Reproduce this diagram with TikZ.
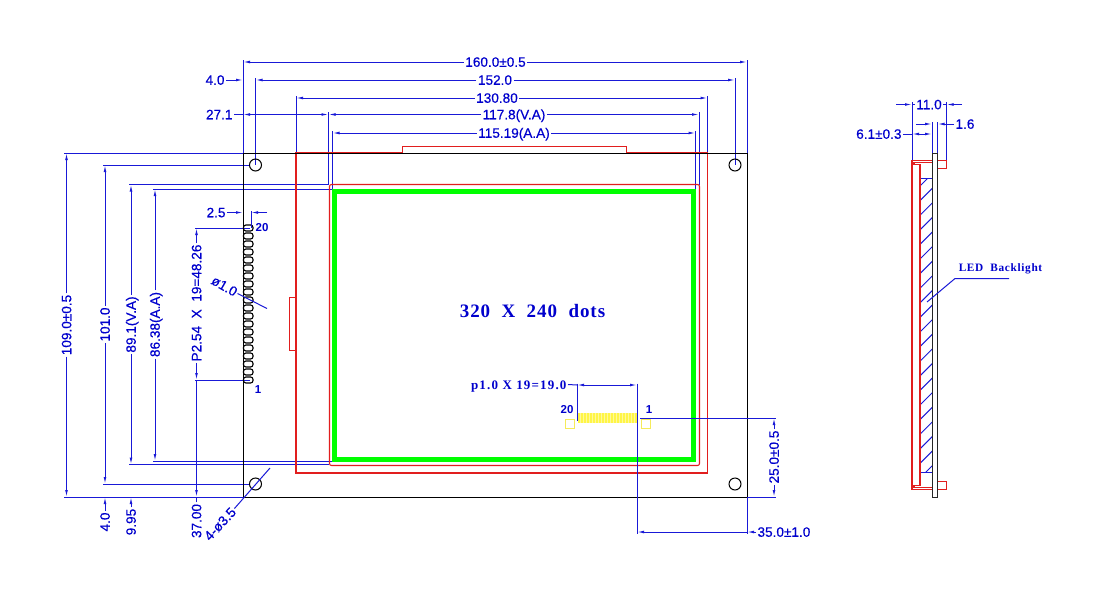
\documentclass[tikz,border=0pt]{standalone}
\usepackage{fontspec}
\setmainfont[FakeBold=0.35]{Liberation Sans}
\newfontfamily\serifcad[LetterSpace=9]{Liberation Serif}
\newfontfamily\serifdots[LetterSpace=5]{Liberation Serif}
\newfontfamily\serifled[LetterSpace=6]{Liberation Serif}
\newfontfamily\sanspin{Liberation Sans}
\usetikzlibrary{arrows.meta}
\definecolor{cadblue}{RGB}{25,25,215}
\definecolor{cadtext}{RGB}{0,0,205}
\definecolor{cadred}{RGB}{225,30,30}
\definecolor{cadgreen}{RGB}{0,255,0}
\definecolor{cadyellow}{RGB}{255,245,70}
\definecolor{padyellow}{RGB}{245,235,90}
\tikzset{
  dl/.style={draw=cadblue,line width=1pt},
  ta/.style={dl,-{Latex[length=7pt,width=2.8pt]}},
  tb/.style={dl,{Latex[length=7pt,width=2.8pt]}-{Latex[length=7pt,width=2.8pt]}},
  lab/.style={text=cadtext,font=\fontsize{13.6}{14}\selectfont,inner sep=0pt,outer sep=1.5pt,text height=9.5pt,text depth=0pt},
  vlab/.style={lab,rotate=90},
  bl/.style={lab,font=\sanspin\fontsize{11.5}{12}\selectfont\bfseries},
  redl/.style={draw=cadred,line width=1.05pt},
  blk/.style={draw=black,line width=1pt},
}
\begin{document}
\begin{tikzpicture}[x=1pt,y=-1pt]
\useasboundingbox[fill=white] (0,0) rectangle (1100,600);

% --- extension lines (under the outlines)
\draw[dl] (243,60) -- (243,153);
\draw[dl] (747,60) -- (747,153);
\draw[dl] (255.5,78) -- (255.5,165);
\draw[dl] (735,78) -- (735,165);
\draw[dl] (296,96) -- (296,153);
\draw[dl] (707.5,96) -- (707.5,153);
\draw[dl] (328.5,112) -- (328.5,185);
\draw[dl] (699,112) -- (699,185);
\draw[dl] (332.5,131) -- (332.5,189);
\draw[dl] (695.5,131) -- (695.5,189);

\draw[dl] (64,153) -- (243,153);
\draw[dl] (64,497) -- (243,497);
\draw[dl] (103,165) -- (250,165);
\draw[dl] (103,484) -- (250,484);
\draw[dl] (129,184.5) -- (329,184.5);
\draw[dl] (129,464.5) -- (329,464.5);
\draw[dl] (153,189) -- (332,189);
\draw[dl] (153,461) -- (332,461);
\draw[dl] (195,228) -- (250,228);
\draw[dl] (195,380) -- (250,380);

% --- front view: outlines
\draw[redl,line width=1.3pt] (296,153) -- (402.5,153) -- (402.5,146.5) -- (626.5,146.5) -- (626.5,153) -- (707.5,153) -- (707.5,473) -- (296,473) -- cycle;
\draw[redl,line width=1.3pt] (296,297.5) -- (289.5,297.5) -- (289.5,350.5) -- (296,350.5);
\draw[redl,rounded corners=2pt] (329.5,184.5) rectangle (699.5,465.5);
\draw[draw=cadgreen,line width=5pt] (334.5,191) rectangle (693.5,459);
\fill[cadgreen] (690.5,193) rectangle (693,202);
\draw[blk] (243.5,153.5) -- (747.5,153.5) -- (747.5,497.5) -- (243.5,497.5) -- cycle;
\foreach \hx/\hy in {255.5/165,735/165,255.5/484,735/484}
  \draw[blk] (\hx,\hy) circle (6);

% pins
\foreach \i in {0,...,19}
  \draw[draw=black,line width=1.1pt,rounded corners=2.4pt] (243.5,{228+8*\i-3}) rectangle (253,{228+8*\i+3});

% yellow connector
\fill[cadyellow] (578,413) rectangle (638,423);
\foreach \i in {0,...,19}
  \draw[white!45!cadyellow,line width=0.5pt] ({580+3*\i},413) -- ({580+3*\i},423);
\draw[padyellow,line width=1pt] (565.5,419) rectangle (574,428);
\draw[padyellow,line width=1pt] (641.5,419) rectangle (650,428);

% --- top dimensions
\node[lab] (t160) at (495.5,62) {160.0±0.5};
\draw[ta] (t160.west) -- (243,62);
\draw[ta] (t160.east) -- (747,62);

\node[lab] (t152) at (495,80) {152.0};
\draw[ta] (t152.west) -- (255.5,80);
\draw[ta] (t152.east) -- (735,80);
\node[lab,anchor=east] (t4a) at (226,80) {4.0};
\draw[ta] (t4a.east) -- (243,80);

\node[lab] (t130) at (497,98) {130.80};
\draw[ta] (t130.west) -- (296,98);
\draw[ta] (t130.east) -- (707.5,98);

\node[lab] (t117) at (514,114.5) {117.8(V.A)};
\draw[ta] (t117.west) -- (328.5,114.5);
\draw[ta] (t117.east) -- (699,114.5);
\node[lab,anchor=east] (t27) at (234,114.5) {27.1};
\draw[dl] (t27.east) -- (243,114.5);
\draw[tb] (243,114.5) -- (328.5,114.5);

\node[lab] (t115) at (514,133) {115.19(A.A)};
\draw[ta] (t115.west) -- (332.5,133);
\draw[ta] (t115.east) -- (695.5,133);

% --- left dimensions
\node[vlab] (t109) at (66.5,325) {109.0±0.5};
\draw[ta] (t109.east) -- (66.5,153);
\draw[ta] (t109.west) -- (66.5,497);

\node[vlab] (t101) at (105,324.5) {101.0};
\draw[ta] (t101.east) -- (105,165);
\draw[ta] (t101.west) -- (105,484);

\node[vlab] (t89) at (131,324.5) {89.1(V.A)};
\draw[ta] (t89.east) -- (131,184.5);
\draw[ta] (t89.west) -- (131,464.5);

\node[vlab] (t86) at (155,324.5) {86.38(A.A)};
\draw[ta] (t86.east) -- (155,189);
\draw[ta] (t86.west) -- (155,461);

\node[vlab] (tp) at (196.5,303) {P2.54\ \ X\ \ 19=48.26};
\draw[ta] (tp.east) -- (196.5,228);
\draw[ta] (tp.west) -- (196.5,380);

\node[vlab] (t4b) at (105,522) {4.0};
\draw[ta] (t4b.east) -- (105,497);
\node[vlab] (t995) at (131,522) {9.95};
\draw[ta] (t995.east) -- (131,497);
\node[vlab] (t37) at (196.5,521) {37.00};
\draw[dl] (t37.east) -- (196.5,497);
\draw[ta] (196.5,380) -- (196.5,497);

% pin pitch labels
\node[lab,anchor=east] (t25) at (227,212.5) {2.5};
\draw[ta] (t25.east) -- (243,212.5);
\coordinate (p25) at (267,212.5);
\draw[ta] (p25) -- (251,212.5);
\draw[dl] (251,211) -- (251,228);
\node[bl] (n20a) at (262,227) {20};
\node[bl] (n1a) at (258,389) {1};
\node[lab,rotate=-30] (tphi) at (224.5,286) {ø1.0};
\coordinate (phiend) at (267,308.5);
\draw[dl] (tphi.east) -- (phiend);

% 4-ø3.5
\node[lab,rotate=47] (thole) at (220,524) {4-ø3.5};
\coordinate (holeend) at (270,468);
\draw[dl] (thole.east) -- (holeend);

% centre text
\node[text=cadtext,inner sep=0pt,font=\serifdots\fontsize{19}{20}\selectfont\bfseries] (tdots) at (532.5,311) {320\ \ X\ \ 240\ \ dots};

% connector pitch
\node[lab,anchor=east,font=\serifcad\fontsize{13}{14}\selectfont\bfseries] (tp1) at (568,384.5) {p1.0\ X\ 19=19.0};
\draw[dl] (tp1.east) -- (577,385);
\draw[dl] (577,383.5) -- (577,421);
\draw[dl] (637,383.5) -- (637,534);
\draw[tb] (577,385) -- (637,385);
\node[bl] (n20b) at (567,408.5) {20};
\node[bl] (n1b) at (649,408.5) {1};

% 25 / 35
\draw[dl] (640,418) -- (776,418);
\draw[dl] (747,497) -- (776,497);
\draw[dl] (747,497) -- (747,534);
\node[vlab] (t25b) at (774,457) {25.0±0.5};
\draw[ta] (t25b.east) -- (774,418);
\draw[ta] (t25b.west) -- (774,497);
\node[lab,anchor=west] (t35) at (756,532) {35.0±1.0};
\draw[ta] (t35.west) -- (747,532);
\draw[ta] (660,532) -- (637,532);
\draw[dl] (660,532) -- (747,532);

% --- side view
\fill[white] (920,178) rectangle (932,472);
\begin{scope}
  \clip (920,178) rectangle (932,472);
  \foreach \i in {0,...,22}
    \draw[dl] (918,{188+14.6*\i}) -- (934,{172+14.6*\i});
\end{scope}
\draw[dl] (920,178) rectangle (932,472);
\draw[redl] (932,160.5) -- (912,160.5) -- (912,489.5) -- (932,489.5);
\draw[redl] (932,162.5) -- (914,162.5) -- (914,164.5) -- (920,164.5) -- (920,485.5) -- (914,485.5) -- (914,487.5) -- (932,487.5);
\draw[redl] (937.5,160.5) rectangle (946.5,168.5);
\draw[redl] (937.5,481.5) rectangle (946.5,489.5);
\draw[draw=black!85,line width=1pt] (932,153.5) rectangle (937.5,497.5);

% side dimensions
\draw[dl] (912,102) -- (912,160);
\draw[dl] (946.5,102) -- (946.5,160);
\draw[dl] (932,122) -- (932,153);
\draw[dl] (937.5,122) -- (937.5,153);
\node[lab] (t11) at (929,104.5) {11.0};
\draw[dl] (t11.west) -- (912,104.5);
\draw[dl] (t11.east) -- (946.5,104.5);
\coordinate (a11l) at (896,104.5);
\coordinate (a11r) at (962,104.5);
\draw[ta] (a11l) -- (912,104.5);
\draw[ta] (a11r) -- (946.5,104.5);
\node[lab,anchor=west] (t16) at (954,124) {1.6};
\draw[ta] (t16.west) -- (937.5,124);
\coordinate (a16l) at (916,124);
\draw[ta] (a16l) -- (932,124);
\node[lab,anchor=east] (t61) at (903,134) {6.1±0.3};
\draw[dl] (t61.east) -- (912,134);
\draw[tb] (912,134) -- (932,134);

% LED label
\node[text=cadtext,inner sep=0pt,font=\serifled\fontsize{11.3}{12}\selectfont\bfseries] (tled) at (1000.5,269) {LED\ \ Backlight};
\coordinate (ledm) at (955,278.5);
\coordinate (ledr) at (1009,278.5);
\coordinate (ledt) at (927,302);
\draw[dl] (ledr) -- (ledm) -- (ledt);
\end{tikzpicture}
\end{document}
